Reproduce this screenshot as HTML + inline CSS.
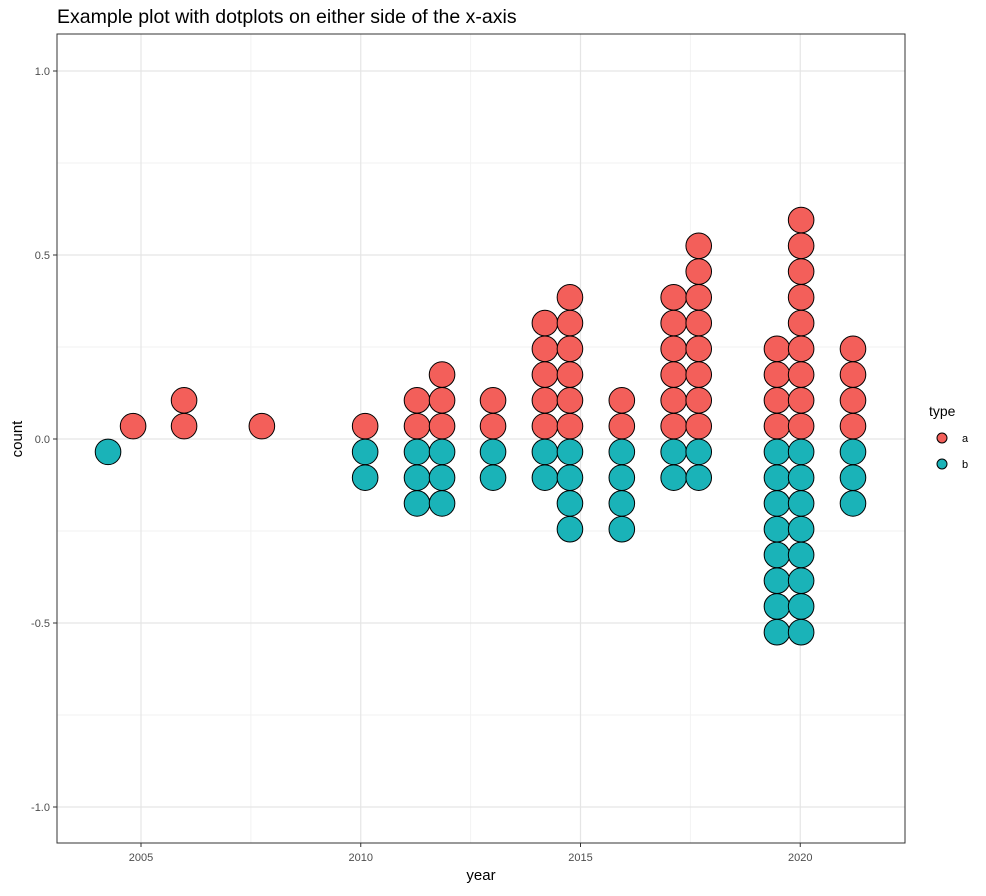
<!DOCTYPE html>
<html><head><meta charset="utf-8"><style>
body{margin:0;background:#fff;font-family:"Liberation Sans",Arial,sans-serif;}
</style></head><body>
<svg id="chart" width="986" height="891" xmlns="http://www.w3.org/2000/svg">
<text x="57" y="23" font-size="19.5" fill="#000">Example plot with dotplots on either side of the x-axis</text>
<g id="grid"></g>
<g id="dots"></g>
<rect x="57" y="34" width="848" height="809" fill="none" stroke="#333" stroke-width="1"/>
<g id="axes"></g>
<text x="481" y="880" font-size="15" text-anchor="middle">year</text>
<text x="22" y="439" font-size="15" text-anchor="middle" transform="rotate(-90 22 439)">count</text>
<g>
<text x="929" y="416" font-size="14">type</text>
<circle cx="942" cy="438" r="5" fill="#F35F5A" stroke="#000"/>
<text x="962" y="442" font-size="11">a</text>
<circle cx="942" cy="464" r="5" fill="#1AB3B8" stroke="#000"/>
<text x="962" y="468" font-size="11">b</text>
</g>
</svg>
<script>
const years = [2004.25, 2004.82, 2005.98, 2007.75, 2010.1, 2011.28, 2011.85, 2013.01, 2014.19, 2014.76, 2015.94, 2017.12, 2017.69, 2019.47, 2020.02, 2021.2];
const countA = [0, 1, 2, 1, 1, 2, 3, 2, 5, 6, 2, 6, 8, 4, 9, 4];
const countB = [1, 0, 0, 0, 2, 3, 3, 2, 2, 4, 4, 2, 2, 8, 8, 3];
const xTicks = [2005, 2010, 2015, 2020];
const yTicks = [-1.0, -0.5, 0.0, 0.5, 1.0];
const yTickLabels = ["-1.0", "-0.5", "0.0", "0.5", "1.0"];
const binStep = 0.07;

const NS = "http://www.w3.org/2000/svg";
const xS = v => 141 + (v - 2005) * 43.95;
const yS = v => 439 - v * 368;
const grid = document.getElementById("grid");
const axes = document.getElementById("axes");
const dots = document.getElementById("dots");
function mk(tag, attrs, parent) {
  const e = document.createElementNS(NS, tag);
  for (const k in attrs) e.setAttribute(k, attrs[k]);
  parent.appendChild(e);
  return e;
}
for (let i = 0; i < xTicks.length - 1; i++) {
  const x = xS((xTicks[i] + xTicks[i + 1]) / 2);
  const l = mk("line", {x1: x, x2: x, y1: 34, y2: 843, stroke: "#f2f2f2", "stroke-width": 1}, grid);
  
  
}
for (let i = 0; i < yTicks.length - 1; i++) {
  const y = yS((yTicks[i] + yTicks[i + 1]) / 2);
  const l = mk("line", {x1: 57, x2: 905, y1: y, y2: y, stroke: "#f2f2f2", "stroke-width": 1}, grid);
  
  
}
xTicks.forEach(t => {
  const x = xS(t);
  const l = mk("line", {x1: x, x2: x, y1: 34, y2: 843, stroke: "#e5e5e5", "stroke-width": 1.2}, grid);
  
  
  const tk = mk("line", {x1: x, x2: x, y1: 843, y2: 847, stroke: "#333"}, axes);
  
  
  const tx = mk("text", {x: x, y: 861, "font-size": 11, "text-anchor": "middle", fill: "#4d4d4d"}, axes);
  tx.textContent = t;
  
  
});
yTicks.forEach((t, i) => {
  const y = yS(t);
  const l = mk("line", {x1: 57, x2: 905, y1: y, y2: y, stroke: "#e5e5e5", "stroke-width": 1.2}, grid);
  
  
  const tk = mk("line", {x1: 53, x2: 57, y1: y, y2: y, stroke: "#333"}, axes);
  
  
  const tx = mk("text", {x: 50, y: y + 4, "font-size": 11, "text-anchor": "end", fill: "#4d4d4d"}, axes);
  tx.textContent = yTickLabels[i];
  
  
});
years.forEach((yr, i) => {
  const x = xS(yr);
  for (let k = 0; k < countA[i]; k++) {
    const c = mk("circle", {cx: x, cy: yS((k + 0.5) * binStep), r: 12.8, fill: "#F35F5A", stroke: "#000", "stroke-width": 1}, dots);
    
    
  }
  for (let k = 0; k < countB[i]; k++) {
    const c = mk("circle", {cx: x, cy: yS(-(k + 0.5) * binStep), r: 12.8, fill: "#1AB3B8", stroke: "#000", "stroke-width": 1}, dots);
    
    
  }
});
</script>
</body></html>
